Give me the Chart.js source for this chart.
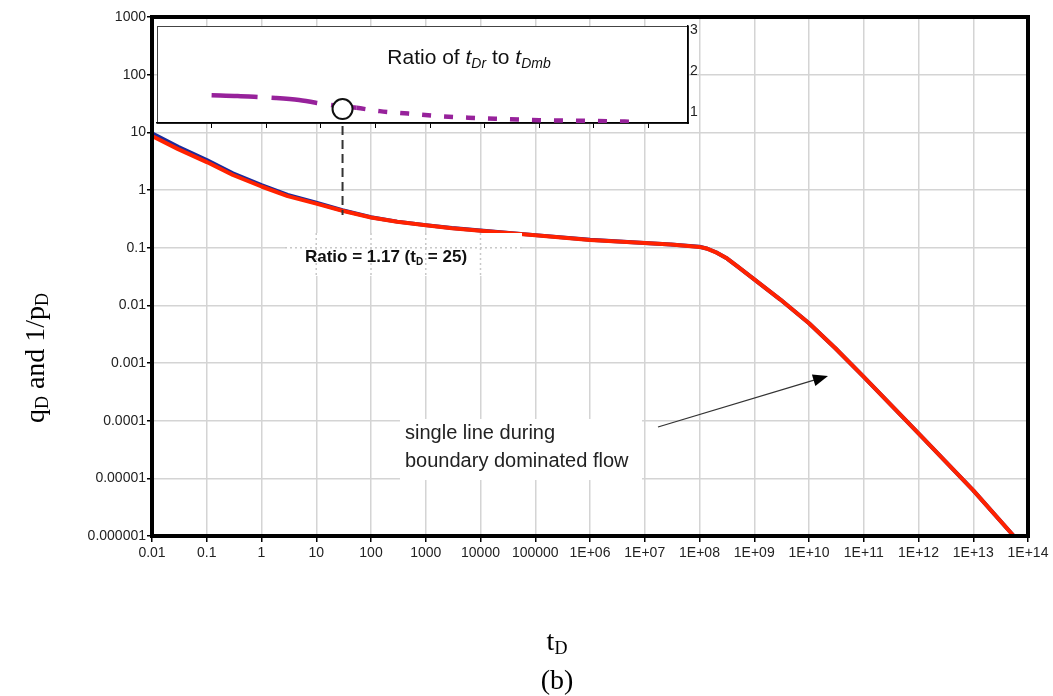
<!DOCTYPE html>
<html>
<head>
<meta charset="utf-8">
<script src="https://cdn.jsdelivr.net/npm/chart.js@4.4.1/dist/chart.umd.min.js"></script>
<style>
  html, body { margin: 0; padding: 0; background: #fff; }
  #wrap { position: relative; width: 1053px; height: 696px; }
  #wrap canvas { position: absolute; left: 0; top: 0; }
</style>
</head>
<body>
<div id="wrap">
  <canvas id="mainChart" width="1053" height="696"></canvas>
  <canvas id="insetChart" width="1053" height="696"></canvas>
</div>
<script>
// ─── data ───
const tD    = [0.01, 0.03, 0.1, 0.3, 1, 3, 10, 30, 100, 300, 1000, 3000, 1e4, 1e5, 1e6, 1e7, 3e7, 1e8, 1.4e8, 2e8, 3.2e8, 5e8, 1e9, 3e9, 1e10, 3e10, 1e11, 1e12, 1e13, 5.5e13];
const qD    = [8.59, 5.12, 3.05, 1.82, 1.15, 0.783, 0.581, 0.436, 0.334, 0.281, 0.245, 0.218, 0.197, 0.164, 0.136, 0.120, 0.1135, 0.103, 0.0955, 0.0832, 0.0646, 0.0468, 0.0282, 0.0126, 0.0049, 0.00182, 5.75e-4, 6.0e-5, 6.2e-6, 1.0e-6];
const invPD = [9.64, 5.61, 3.31, 1.95, 1.22, 0.82, 0.601, 0.446, 0.338, 0.283, 0.246, 0.219, 0.198, 0.165, 0.137, 0.121, 0.114, 0.1035, 0.0957, 0.0833, 0.0646, 0.0468, 0.0282, 0.0126, 0.0049, 0.00182, 5.75e-4, 6.0e-5, 6.2e-6, 1.0e-6];

const xTicks      = [0.01, 0.1, 1, 10, 100, 1000, 1e4, 1e5, 1e6, 1e7, 1e8, 1e9, 1e10, 1e11, 1e12, 1e13, 1e14];
const xTickLabels = ['0.01', '0.1', '1', '10', '100', '1000', '10000', '100000', '1E+06', '1E+07', '1E+08', '1E+09', '1E+10', '1E+11', '1E+12', '1E+13', '1E+14'];
const yTicks      = [1e-6, 1e-5, 1e-4, 1e-3, 0.01, 0.1, 1, 10, 100, 1000];
const yTickLabels = ['0.000001', '0.00001', '0.0001', '0.001', '0.01', '0.1', '1', '10', '100', '1000'];

// inset: ratio of tDr to tDmb
const ratioTD     = [0.1, 0.3, 0.8, 1.5, 4, 15, 45, 120, 400, 1400, 5000, 20000, 1e5, 1e6, 7e6];
const ratio       = [1.41, 1.39, 1.36, 1.34, 1.29, 1.17, 1.10, 1.02, 0.96, 0.90, 0.86, 0.83, 0.80, 0.78, 0.755];
const insetXTicks = [0.1, 1, 10, 100, 1000, 1e4, 1e5, 1e6, 1e7];
const ratioTicks  = [1, 2, 3];
const markerTD = 25, markerRatio = 1.07, markerCurveEnd = 0.37;

const SANS = "'Liberation Sans', Arial, sans-serif";
const SERIF = "'Liberation Serif', 'Times New Roman', serif";

function drawRuns(ctx, runs, x, y, align) {
    let w = 0;
    runs.forEach(r => { ctx.font = r.font; w += ctx.measureText(r.text).width; });
    let cx = align === 'center' ? x - w / 2 : x;
    runs.forEach(r => {
        ctx.font = r.font;
        ctx.fillText(r.text, cx, y + (r.dy || 0));
        cx += ctx.measureText(r.text).width;
    });
}

// ─── main chart decorations ───
const mainDecor = {
    id: 'mainDecor',
    afterDraw(chart) {
        const { ctx, chartArea: a, scales } = chart;
        ctx.save();

        // ratio label box with faint dotted grid inside
        const bx0 = 285, by0 = 233, bx1 = 522, by1 = 276;
        ctx.fillStyle = '#fff';
        ctx.fillRect(bx0, by0, bx1 - bx0, by1 - by0);
        ctx.strokeStyle = '#c8c8c8';
        ctx.lineWidth = 1.5;
        ctx.setLineDash([2, 3]);
        xTicks.forEach(v => {
            const px = scales.x.getPixelForValue(v);
            if (px > bx0 && px < bx1) { ctx.beginPath(); ctx.moveTo(px, by0); ctx.lineTo(px, by1); ctx.stroke(); }
        });
        yTicks.forEach(v => {
            const py = scales.y.getPixelForValue(v);
            if (py > by0 && py < by1) { ctx.beginPath(); ctx.moveTo(bx0, py); ctx.lineTo(bx1, py); ctx.stroke(); }
        });
        ctx.setLineDash([]);
        ctx.fillStyle = '#111';
        ctx.textBaseline = 'alphabetic';
        drawRuns(ctx, [
            { text: 'Ratio = 1.17 (t', font: `bold 17px ${SANS}` },
            { text: 'D', font: `bold 10px ${SANS}`, dy: 3 },
            { text: ' = 25)', font: `bold 17px ${SANS}` }
        ], 386, 262, 'center');

        // boundary-dominated text box
        ctx.fillStyle = '#fff';
        ctx.fillRect(400, 419, 242, 61);
        ctx.fillStyle = '#222';
        ctx.font = `20px ${SANS}`;
        ctx.fillText('single line during', 405, 439);
        ctx.fillText('boundary dominated flow', 405, 467);

        // arrow
        const ax0 = 658, ay0 = 427, ax1 = 828, ay1 = 376;
        const ang = Math.atan2(ay1 - ay0, ax1 - ax0);
        ctx.strokeStyle = '#333';
        ctx.lineWidth = 1.3;
        ctx.beginPath();
        ctx.moveTo(ax0, ay0);
        ctx.lineTo(ax1 - 12 * Math.cos(ang), ay1 - 12 * Math.sin(ang));
        ctx.stroke();
        ctx.fillStyle = '#000';
        ctx.beginPath();
        ctx.moveTo(ax1, ay1);
        ctx.lineTo(ax1 - 15 * Math.cos(ang) + 6 * Math.sin(ang), ay1 - 15 * Math.sin(ang) - 6 * Math.cos(ang));
        ctx.lineTo(ax1 - 15 * Math.cos(ang) - 6 * Math.sin(ang), ay1 - 15 * Math.sin(ang) + 6 * Math.cos(ang));
        ctx.closePath();
        ctx.fill();

        // plot frame
        ctx.strokeStyle = '#000';
        ctx.lineWidth = 4;
        ctx.strokeRect(a.left, a.top, a.right - a.left, a.bottom - a.top);

        // axis titles
        ctx.fillStyle = '#000';
        drawRuns(ctx, [
            { text: 't', font: `28px ${SERIF}` },
            { text: 'D', font: `18px ${SERIF}`, dy: 4 }
        ], 557, 650, 'center');
        drawRuns(ctx, [{ text: '(b)', font: `28px ${SERIF}` }], 557, 689, 'center');

        ctx.translate(44, 358);
        ctx.rotate(-Math.PI / 2);
        drawRuns(ctx, [
            { text: 'q', font: `28px ${SERIF}` },
            { text: 'D', font: `18px ${SERIF}`, dy: 4 },
            { text: ' and 1/p', font: `28px ${SERIF}` },
            { text: 'D', font: `18px ${SERIF}`, dy: 4 }
        ], 0, 0, 'center');
        ctx.restore();
    }
};

const tickFont = { family: SANS, size: 14 };

const mainChart = new Chart(document.getElementById('mainChart'), {
    type: 'line',
    data: {
        datasets: [
            {
                label: 'qD',
                data: tD.map((x, i) => ({ x, y: qD[i] })),
                borderColor: '#ff2200',
                borderWidth: 4,
                borderJoinStyle: 'round',
                pointRadius: 0,
                order: 0
            },
            {
                label: '1/pD',
                data: tD.map((x, i) => ({ x, y: invPD[i] })),
                borderColor: '#1c2a9c',
                borderWidth: 4,
                borderJoinStyle: 'round',
                pointRadius: 0,
                order: 1
            }
        ]
    },
    options: {
        responsive: false,
        devicePixelRatio: 1,
        animation: false,
        layout: { padding: { left: 0, top: 17, right: 25, bottom: 0 } },
        plugins: { legend: { display: false }, tooltip: { enabled: false } },
        scales: {
            x: {
                type: 'logarithmic',
                min: 0.01,
                max: 1e14,
                afterBuildTicks: s => { s.ticks = xTicks.map(v => ({ value: v })); },
                afterFit: s => { s.height = 160; },
                ticks: { autoSkip: false, maxRotation: 0, color: '#222', font: tickFont, padding: 3, callback: (v, i) => xTickLabels[i] },
                grid: { color: '#d4d4d4', lineWidth: 1.5, tickColor: '#000', tickLength: 6, tickWidth: 1.5 },
                border: { display: false }
            },
            y: {
                type: 'logarithmic',
                min: 1e-6,
                max: 1000,
                afterBuildTicks: s => { s.ticks = yTicks.map(v => ({ value: v })); },
                afterFit: s => { s.width = 152; },
                ticks: { autoSkip: false, color: '#222', font: tickFont, padding: 1, callback: (v, i) => yTickLabels[i] },
                grid: { color: '#d4d4d4', lineWidth: 1.5, tickColor: '#000', tickLength: 5, tickWidth: 1.5 },
                border: { display: false }
            }
        }
    },
    plugins: [mainDecor]
});

// ─── inset chart ───
const insetDecor = {
    id: 'insetDecor',
    beforeDraw(chart) {
        const { ctx, chartArea: a } = chart;
        ctx.save();
        ctx.fillStyle = '#fff';
        ctx.fillRect(a.left, a.top, a.right - a.left, a.bottom - a.top);
        ctx.strokeStyle = '#444';
        ctx.lineWidth = 1;
        ctx.strokeRect(a.left + 0.5, a.top + 0.5, a.right - a.left, a.bottom - a.top);
        ctx.restore();
    },
    afterDraw(chart) {
        const { ctx, chartArea: a, scales } = chart;
        ctx.save();
        // dashed drop line from marker to main curve
        const px = scales.x.getPixelForValue(markerTD);
        const py = mainChart.scales.y.getPixelForValue(markerCurveEnd);
        ctx.strokeStyle = '#333';
        ctx.lineWidth = 2;
        ctx.setLineDash([9, 5]);
        ctx.beginPath();
        ctx.moveTo(px, a.bottom + 3);
        ctx.lineTo(px, py);
        ctx.stroke();
        ctx.setLineDash([]);

        // title
        ctx.fillStyle = '#111';
        ctx.textBaseline = 'alphabetic';
        drawRuns(ctx, [
            { text: 'Ratio of ', font: `21px ${SANS}` },
            { text: 't', font: `italic 21px ${SANS}` },
            { text: 'Dr', font: `italic 14px ${SANS}`, dy: 4 },
            { text: ' to ', font: `21px ${SANS}` },
            { text: 't', font: `italic 21px ${SANS}` },
            { text: 'Dmb', font: `italic 14px ${SANS}`, dy: 4 }
        ], 469, 64, 'center');
        ctx.restore();
    }
};

const insetChart = new Chart(document.getElementById('insetChart'), {
    type: 'line',
    data: {
        datasets: [
            {
                label: 'marker',
                data: [{ x: markerTD, y: markerRatio }],
                pointRadius: 10,
                pointBorderWidth: 2,
                pointBorderColor: '#111',
                pointBackgroundColor: '#fff',
                showLine: false,
                order: 0
            },
            {
                label: 'ratio',
                data: ratioTD.map((x, i) => ({ x, y: ratio[i] })),
                borderColor: '#97229b',
                borderWidth: 4.5,
                pointRadius: 0,
                cubicInterpolationMode: 'monotone',
                segment: { borderDash: c => c.p0.parsed.x < 20 ? [46, 14] : [9, 13] },
                order: 1
            }
        ]
    },
    options: {
        responsive: false,
        devicePixelRatio: 1,
        animation: false,
        layout: { padding: { left: 157, top: 26, right: 0, bottom: 0 } },
        plugins: { legend: { display: false }, tooltip: { enabled: false } },
        scales: {
            x: {
                type: 'logarithmic',
                min: 0.01,
                max: 5.3e7,
                afterBuildTicks: s => { s.ticks = insetXTicks.map(v => ({ value: v })); },
                afterFit: s => { s.height = 696 - 123; },
                ticks: { autoSkip: false, maxRotation: 0, callback: () => '' },
                grid: { drawOnChartArea: false, tickColor: '#000', tickLength: 5, tickWidth: 1 },
                border: { display: true, color: '#000', width: 1.5 }
            },
            y: {
                position: 'right',
                min: 0.73,
                max: 3.1,
                afterBuildTicks: s => { s.ticks = ratioTicks.map(v => ({ value: v })); },
                afterFit: s => { s.width = 1053 - 688; },
                ticks: { color: '#222', font: tickFont, padding: 2, callback: v => String(v) },
                grid: { drawOnChartArea: false, drawTicks: false },
                border: { display: true, color: '#000', width: 1.5 }
            }
        }
    },
    plugins: [insetDecor]
});
</script>
</body>
</html>
